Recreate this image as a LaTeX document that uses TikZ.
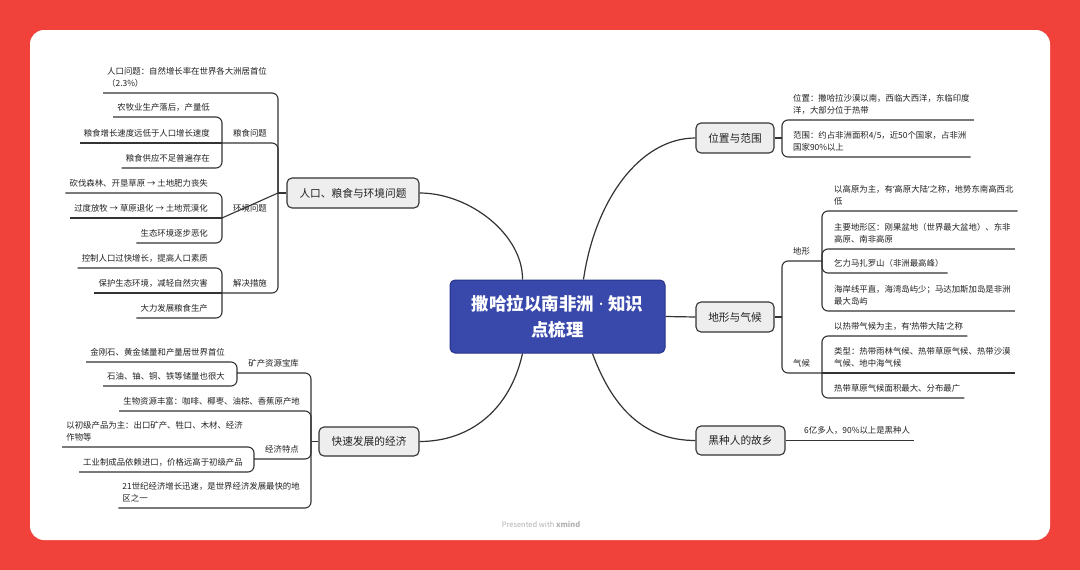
\documentclass[tikz,border=0pt]{standalone}
\usepackage{fontspec}
\setmainfont{Noto Sans CJK SC}
\newfontfamily\latinfont{Noto Sans}
\usetikzlibrary{calc}
\definecolor{bgred}{RGB}{240,66,58}
\definecolor{linec}{RGB}{51,51,51}
\definecolor{txt}{RGB}{34,34,34}
\definecolor{tfill}{RGB}{238,238,238}
\definecolor{cblue}{RGB}{57,73,171}
\definecolor{cborder}{RGB}{40,52,140}
\newcommand\childfont{\fontsize{8.4}{12}\selectfont}
\newcommand\topicfont{\fontsize{10.7}{13}\selectfont}
\newcommand\titlefont{\bfseries\fontsize{17.5}{26}\selectfont}
\newcommand\myopenq{{\latinfont ‘}}
\newcommand\mycloseq{{\latinfont ’}}
\tikzset{
  brline/.style={draw=linec, line width=1.1pt, rounded corners=6pt},
  curveline/.style={draw=linec, line width=1.2pt},
  lefttext/.style={anchor=base east, inner sep=0pt, align=left, font=\childfont, text=txt},
  righttext/.style={anchor=base west, inner sep=0pt, align=left, font=\childfont, text=txt},
  topicbox/.style={draw=linec, fill=tfill, line width=1.1pt, rounded corners=5pt, font=\topicfont, text=txt, inner sep=0pt},
}
\begin{document}
\begin{tikzpicture}[x=1pt,y=-1pt]
\fill[bgred] (0,0) rectangle (1080,570);
\useasboundingbox (0,0) rectangle (1080,570);
\fill[white, rounded corners=14pt] (30,30) rectangle (1050,540);

% ---------- centre and main topics ----------
\node[draw=cborder, fill=cblue, line width=1pt, rounded corners=5pt, minimum width=215, minimum height=73,
      font=\titlefont, text=white, align=center, inner sep=0pt] (c) at (557.5,316.5) {撒哈拉以南非洲{\latinfont\bfseries\ ·\ }知识\\点梳理};
\node[topicbox, minimum width=132, minimum height=30] (t1) at (353,193) {人口、粮食与环境问题};
\node[topicbox, minimum width=100, minimum height=29] (t2) at (369,441.5) {快速发展的经济};
\node[topicbox, minimum width=78, minimum height=30] (tp) at (735,138) {位置与范围};
\node[topicbox, minimum width=78, minimum height=30] (tt) at (735,317) {地形与气候};
\node[topicbox, minimum width=89, minimum height=29] (th) at (740.5,440.5) {黑种人的故乡};

\draw[curveline] ($(c.north west)+(73,0)$) .. controls (523,235) and (470,193) .. (t1.east);
\draw[curveline] ($(c.south west)+(73,0)$) .. controls (510,410) and (470,441.5) .. (t2.east);
\draw[curveline] ($(c.north east)+(-82,0)$) .. controls (595,200) and (640,138) .. (tp.west);
\draw[curveline] (c.east) -- (tt.west);
\draw[curveline] ($(c.south east)+(-73,0)$) .. controls (615,415) and (650,440.5) .. (th.west);

% ---------- topic 1 ----------
\coordinate (j1) at (278,193);
\coordinate (jb) at (222,143);
\coordinate (jc) at (222,218);
\coordinate (jd) at (222,293);
\node[lefttext] (a1) at (267,86) {人口问题：自然增长率在世界各大洲居首位\\（2.3\%）};
\node[lefttext] (b0) at (267,136) {粮食问题};
\node[lefttext] (b1) at (210,110) {农牧业生产落后，产量低};
\node[lefttext] (b2) at (210,136) {粮食增长速度远低于人口增长速度};
\node[lefttext] (b3) at (210,161) {粮食供应不足普遍存在};
\node[lefttext] (c0) at (267,211) {环境问题};
\node[lefttext] (c1) at (208,186) {砍伐森林、开垦草原 → 土地肥力丧失};
\node[lefttext] (c2) at (208,211) {过度放牧 → 草原退化 → 土地荒漠化};
\node[lefttext] (c3) at (208,236) {生态环境逐步恶化};
\node[lefttext] (d0) at (267,286) {解决措施};
\node[lefttext] (d1) at (208,261) {控制人口过快增长，提高人口素质};
\node[lefttext] (d2) at (208,286) {保护生态环境，减轻自然灾害};
\node[lefttext] (d3) at (208,311) {大力发展粮食生产};

\draw[brline] (t1.west) -- (j1);
\draw[brline] (j1) |- ($(a1.base west)+(-4,7)$);
\draw[brline] (j1) |- (jb);
\draw[brline] (j1) -- (jc);
\draw[brline] (j1) |- (jd);
\draw[brline] (jb) |- ($(b1.base west)+(-4,7)$);
\draw[brline] (jb) -- ($(b2.base west)+(-4,7)$);
\draw[brline] (jb) |- ($(b3.base west)+(-4,7)$);
\draw[brline] (jc) |- ($(c1.base west)+(-4,7)$);
\draw[brline] (jc) -- ($(c2.base west)+(-4,7)$);
\draw[brline] (jc) |- ($(c3.base west)+(-4,7)$);
\draw[brline] (jd) |- ($(d1.base west)+(-4,7)$);
\draw[brline] (jd) -- ($(d2.base west)+(-4,7)$);
\draw[brline] (jd) |- ($(d3.base west)+(-4,7)$);

% ---------- topic 2 ----------
\coordinate (j2) at (311,441.5);
\coordinate (je1) at (237,373);
\coordinate (je3) at (254,459);
\node[lefttext] (e1) at (299,366) {矿产资源宝库};
\node[lefttext] (e1a) at (225,355) {金刚石、黄金储量和产量居世界首位};
\node[lefttext] (e1b) at (225,379) {石油、铀、铜、铁等储量也很大};
\node[lefttext] (e2) at (300,404) {生物资源丰富：咖啡、椰枣、油棕、香蕉原产地};
\node[lefttext] (e3) at (299,452) {经济特点};
\node[lefttext] (e3a) at (243,440) {以初级产品为主：出口矿产、牲口、木材、经济\\作物等};
\node[lefttext] (e3b) at (243,465) {工业制成品依赖进口，价格远高于初级产品};
\node[lefttext] (e4) at (300,501) {21世纪经济增长迅速，是世界经济发展最快的地\\区之一};

\draw[brline] (t2.west) -- (j2);
\draw[brline] (j2) |- (je1);
\draw[brline] (j2) |- ($(e2.base west)+(-4,7)$);
\draw[brline] (j2) |- (je3);
\draw[brline] (j2) |- ($(e4.base west)+(-4,7)$);
\draw[brline] (je1) |- ($(e1a.base west)+(-4,7)$);
\draw[brline] (je1) |- ($(e1b.base west)+(-4,7)$);
\draw[brline] (je3) |- ($(e3a.base west)+(-4,7)$);
\draw[brline] (je3) |- ($(e3b.base west)+(-4,7)$);

% ---------- position and extent ----------
\coordinate (jp) at (782,138);
\node[righttext] (p1) at (793,113) {位置：撒哈拉沙漠以南，西临大西洋，东临印度\\洋，大部分位于热带};
\node[righttext] (p2) at (793,150) {范围：约占非洲面积4/5，近50个国家，占非洲\\国家90\%以上};
\draw[brline] (tp.east) -- (jp);
\draw[brline] (jp) |- ($(p1.base east)+(4,7)$);
\draw[brline] (jp) |- ($(p2.base east)+(4,7)$);

% ---------- landform and climate ----------
\coordinate (jt) at (782,317);
\coordinate (jf) at (822,261);
\coordinate (jq) at (822,373);
\node[righttext] (f0) at (793,254) {地形};
\node[righttext] (f1) at (834,204) {以高原为主，有\myopenq 高原大陆\mycloseq 之称，地势东南高西北\\低};
\node[righttext] (f2) at (834,242) {主要地形区：刚果盆地（世界最大盆地）、东非\\高原、南非高原};
\node[righttext] (f3) at (834,266) {乞力马扎罗山（非洲最高峰）};
\node[righttext] (f4) at (834,304) {海岸线平直，海湾岛屿少；马达加斯加岛是非洲\\最大岛屿};
\node[righttext] (q0) at (793,366) {气候};
\node[righttext] (q1) at (834,329) {以热带气候为主，有\myopenq 热带大陆\mycloseq 之称};
\node[righttext] (q2) at (834,366) {类型：热带雨林气候、热带草原气候、热带沙漠\\气候、地中海气候};
\node[righttext] (q3) at (834,391) {热带草原气候面积最大、分布最广};

\draw[brline] (tt.east) -- (jt);
\draw[brline] (jt) |- (jf);
\draw[brline] (jt) |- (jq);
\draw[brline] (jf) |- ($(f1.base east)+(4,7)$);
\draw[brline] (jf) |- ($(f2.base east)+(4,7)$);
\draw[brline] (jf) |- ($(f3.base east)+(4,7)$);
\draw[brline] (jf) |- ($(f4.base east)+(4,7)$);
\draw[brline] (jq) |- ($(q1.base east)+(4,7)$);
\draw[brline] (jq) -- ($(q2.base east)+(4,7)$);
\draw[brline] (jq) |- ($(q3.base east)+(4,7)$);

% ---------- home of black people ----------
\node[righttext] (h1) at (804,433.5) {6亿多人，90\%以上是黑种人};
\draw[brline] (th.east) -- ($(h1.base east)+(4,7)$);

% ---------- watermark ----------
\node[font=\fontsize{7.5}{9}\selectfont, text=black!30, inner sep=0pt] (wm) at (541,524) {Presented with \textbf{xmind}};
\end{tikzpicture}
\end{document}
